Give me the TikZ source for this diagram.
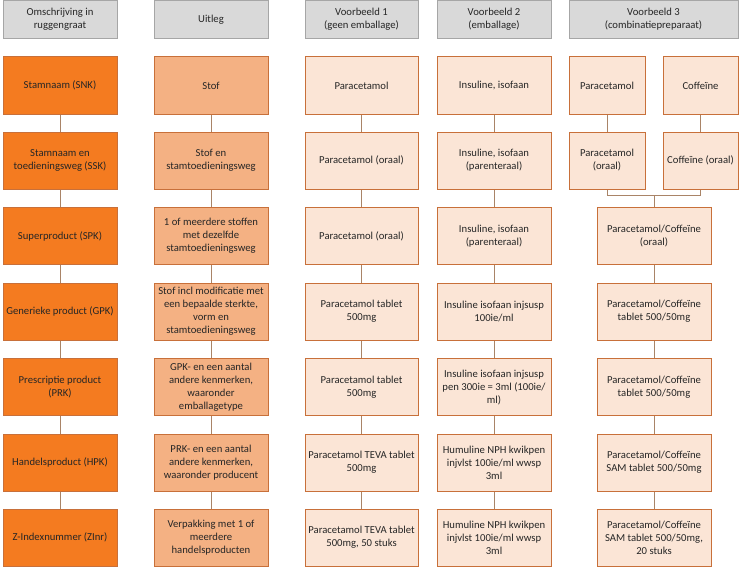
\documentclass[tikz,border=0pt]{standalone}
\usepackage{fontspec}
\setmainfont{Carlito}
\definecolor{hdrfill}{HTML}{D9D9D9}
\definecolor{hdrline}{HTML}{A6A6A6}
\definecolor{darkfill}{HTML}{F47B20}
\definecolor{midfill}{HTML}{F4B183}
\definecolor{lightfill}{HTML}{FBE5D6}
\definecolor{boxline}{HTML}{C8703A}
\definecolor{connline}{HTML}{A98467}
\definecolor{txt}{HTML}{262626}
\tikzset{
  base/.style={rectangle, draw=boxline, line width=0.75pt, text=txt, align=center,
    font=\fontsize{8pt}{9.75pt}\selectfont, inner sep=1pt, minimum height=42.75pt},
  hdr/.style={base, fill=hdrfill, draw=hdrline, minimum height=28.5pt},
  dark/.style={base, fill=darkfill},
  mid/.style={base, fill=midfill},
  light/.style={base, fill=lightfill},
  wA/.style={minimum width=85.5pt},
  wB/.style={minimum width=84.75pt},
  conn/.style={draw=connline, line width=0.75pt}
}
\begin{document}
\begin{tikzpicture}[x=0.75pt,y=-0.75pt]
\useasboundingbox (0,0) rectangle (741,567);
% headers
\node[hdr,wA] (h1) at (60,19.3) {Omschrijving in\\ruggengraat};
\node[hdr,wA] (h2) at (211,19.3) {Uitleg};
\node[hdr,wB] (h3) at (361.5,19.3) {Voorbeeld 1\\(geen emballage)};
\node[hdr,wA] (h4) at (494,19.3) {Voorbeeld 2\\(emballage)};
\node[hdr,minimum width=126.75pt] (h5) at (653.5,19.3) {Voorbeeld 3\\(combinatiepreparaat)};
% column 1
\node[dark,wA] (a1) at (60,85.5) {Stamnaam (SNK)};
\node[dark,wA] (a2) at (60,160.5) {Stamnaam en\\toedieningsweg (SSK)};
\node[dark,wA] (a3) at (60,236.2) {Superproduct (SPK)};
\node[dark,wA] (a4) at (60,311.5) {Generieke product (GPK)};
\node[dark,wA] (a5) at (60,387.2) {Prescriptie product\\(PRK)};
\node[dark,wA] (a6) at (60,462.5) {Handelsproduct (HPK)};
\node[dark,wA] (a7) at (60,537.5) {Z-Indexnummer (ZInr)};
% column 2
\node[mid,wA] (b1) at (211,85.5) {Stof};
\node[mid,wA] (b2) at (211,160.5) {Stof en\\stamtoedieningsweg};
\node[mid,wA] (b3) at (211,236.2) {1 of meerdere stoffen\\met dezelfde\\stamtoedieningsweg};
\node[mid,wA] (b4) at (211,311.5) {Stof incl modificatie met\\een bepaalde sterkte,\\vorm en\\stamtoedieningsweg};
\node[mid,wA] (b5) at (211,387.2) {GPK- en een aantal\\andere kenmerken,\\waaronder\\emballagetype};
\node[mid,wA] (b6) at (211,462.5) {PRK- en een aantal\\andere kenmerken,\\waaronder producent};
\node[mid,wA] (b7) at (211,537.5) {Verpakking met 1 of\\meerdere\\handelsproducten};
% column 3
\node[light,wB] (c1) at (361.5,85.5) {Paracetamol};
\node[light,wB] (c2) at (361.5,160.5) {Paracetamol (oraal)};
\node[light,wB] (c3) at (361.5,236.2) {Paracetamol (oraal)};
\node[light,wB] (c4) at (361.5,311.5) {Paracetamol tablet\\500mg};
\node[light,wB] (c5) at (361.5,387.2) {Paracetamol tablet\\500mg};
\node[light,wB] (c6) at (361.5,462.5) {Paracetamol TEVA tablet\\500mg};
\node[light,wB] (c7) at (361.5,537.5) {Paracetamol TEVA tablet\\500mg, 50 stuks};
% column 4
\node[light,wA] (d1) at (494,85.5) {Insuline, isofaan};
\node[light,wA] (d2) at (494,160.5) {Insuline, isofaan\\(parenteraal)};
\node[light,wA] (d3) at (494,236.2) {Insuline, isofaan\\(parenteraal)};
\node[light,wA] (d4) at (494,311.5) {Insuline isofaan injsusp\\100ie/ml};
\node[light,wA] (d5) at (494,387.2) {Insuline isofaan injsusp\\pen 300ie = 3ml (100ie/\\ml)};
\node[light,wA] (d6) at (494,462.5) {Humuline NPH kwikpen\\injvlst 100ie/ml wwsp\\3ml};
\node[light,wA] (d7) at (494,537.5) {Humuline NPH kwikpen\\injvlst 100ie/ml wwsp\\3ml};
% column 5
\node[light,minimum width=57pt] (p1) at (607,85.5) {Paracetamol};
\node[light,minimum width=56.25pt] (q1) at (700.5,85.5) {Coffeïne};
\node[light,minimum width=57pt] (p2) at (607,160.5) {Paracetamol\\(oraal)};
\node[light,minimum width=56.25pt] (q2) at (700.5,160.5) {Coffeïne (oraal)};
\node[light,wA] (e3) at (654,236.2) {Paracetamol/Coffeïne\\(oraal)};
\node[light,wA] (e4) at (654,311.5) {Paracetamol/Coffeïne\\tablet 500/50mg};
\node[light,wA] (e5) at (654,387.2) {Paracetamol/Coffeïne\\tablet 500/50mg};
\node[light,wA] (e6) at (654,462.5) {Paracetamol/Coffeïne\\SAM tablet 500/50mg};
\node[light,wA] (e7) at (654,537.5) {Paracetamol/Coffeïne\\SAM tablet 500/50mg,\\20 stuks};
\coordinate (j) at (654,195.8);
% connectors
\foreach \c in {a,b,c,d}{
  \foreach \i [evaluate=\i as \n using int(\i+1)] in {1,...,6}{
    \draw[conn] (\c\i.south) -- (\c\n.north);
  }
}
\draw[conn] (p1.south) -- (p2.north);
\draw[conn] (q1.south) -- (q2.north);
\draw[conn] (p2.south) |- (j);
\draw[conn] (q2.south) |- (j);
\draw[conn] (j) -- (e3.north);
\draw[conn] (e3.south) -- (e4.north);
\draw[conn] (e4.south) -- (e5.north);
\draw[conn] (e5.south) -- (e6.north);
\draw[conn] (e6.south) -- (e7.north);
\end{tikzpicture}
\end{document}
